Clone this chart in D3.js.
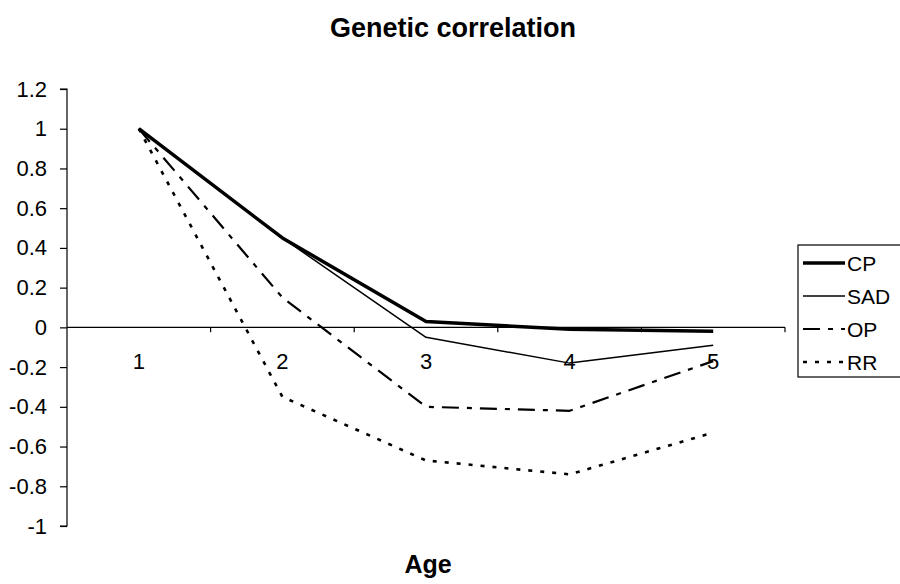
<!DOCTYPE html>
<html><head>
<meta charset="utf-8">
<script src="https://d3js.org/d3.v7.min.js"></script>
<style>
  body { margin: 0; background: #fff; }
  svg { font-family: "Liberation Sans", Arial, sans-serif; }
  .axis text { font-size: 22px; fill: #000; }
  .axis line, .axis path { stroke: #000; stroke-width: 1.2; }
  .line { fill: none; stroke: #000; }
</style>
</head>
<body>
<svg id="chart" width="900" height="584"></svg>
<script>
// data
let ages = ["1", "2", "3", "4", "5"];
let yTicks = [1.2, 1, 0.8, 0.6, 0.4, 0.2, 0, -0.2, -0.4, -0.6, -0.8, -1];
let cp  = [1, 0.45, 0.03, -0.01, -0.02];
let sad = [1, 0.45, -0.05, -0.18, -0.09];
let op  = [1, 0.15, -0.40, -0.42, -0.17];
let rr  = [1, -0.35, -0.67, -0.74, -0.53];
let seriesNames = ["CP", "SAD", "OP", "RR"];

let series = [
  { name: "CP",  values: cp,  width: 3.5, dash: null },
  { name: "SAD", values: sad, width: 1.5, dash: null },
  { name: "OP",  values: op,  width: 2.2, dash: "17,8,5,8" },
  { name: "RR",  values: rr,  width: 2.6, dash: "4,8" }
];

let svg = d3.select("svg#chart");
let margin = { left: 67, right: 115, top: 89, bottom: 58 };
let plotW = 785 - margin.left;

let x = d3.scaleBand().domain(ages).range([margin.left, margin.left + plotW]);
let y = d3.scaleLinear().domain([-1, 1.2]).range([526, 89]);

// title
svg.append("text").attr("x", 453).attr("y", 37)
  .attr("text-anchor", "middle").style("font-size", "27px").style("font-weight", "bold")
  .text("Genetic correlation");

// y axis
let yAxis = d3.axisLeft(y).tickValues(yTicks).tickSize(7).tickPadding(13)
  .tickFormat(d => String(d));
let gy = svg.append("g").attr("class", "axis").attr("transform", "translate(" + margin.left + ",0)")
  .call(yAxis);
gy.select(".domain").attr("d", "M-7," + y(1.2) + "H0V" + y(-1) + "H-7");

// x axis along zero, ticks between categories
let gx = svg.append("g").attr("class", "axis").attr("transform", "translate(0," + y(0) + ")");
gx.append("line").attr("x1", margin.left).attr("x2", margin.left + plotW);
let bounds = ages.map(a => x(a)).concat([margin.left + plotW]).slice(1);
gx.selectAll(".tk").data(bounds).enter().append("line")
  .attr("x1", d => d).attr("x2", d => d).attr("y1", 0).attr("y2", 5);
gx.selectAll(".lb").data(ages).enter().append("text")
  .attr("x", d => x(d) + x.bandwidth() / 2).attr("y", 42)
  .attr("text-anchor", "middle").text(d => d);

// lines
let line = d3.line()
  .x((d, i) => x(ages[i]) + x.bandwidth() / 2)
  .y(d => y(d));

svg.selectAll(".line").data(series).enter().append("path")
  .attr("class", "line")
  .attr("d", d => line(d.values))
  .attr("stroke-width", d => d.width)
  .attr("stroke-dasharray", d => d.dash)
  .attr("stroke-linejoin", "round");

// axis title
svg.append("text").attr("x", 428).attr("y", 573)
  .attr("text-anchor", "middle").style("font-size", "25px").style("font-weight", "bold")
  .text("Age");

// legend
let legend = svg.append("g").attr("transform", "translate(798,245)");
legend.append("rect").attr("width", 110).attr("height", 132)
  .attr("fill", "none").attr("stroke", "#000").attr("stroke-width", 1.2);
let items = legend.selectAll(".item").data(series).enter().append("g")
  .attr("transform", (d, i) => "translate(0," + (18 + i * 33) + ")");
items.append("line").attr("x1", 5).attr("x2", 47)
  .attr("stroke", "#000")
  .attr("stroke-width", d => d.width)
  .attr("stroke-dasharray", d => d.dash);
items.append("text").attr("x", 49).attr("y", 7.5)
  .style("font-size", "21px").text((d, i) => seriesNames[i]);
</script>
</body>
</html>
